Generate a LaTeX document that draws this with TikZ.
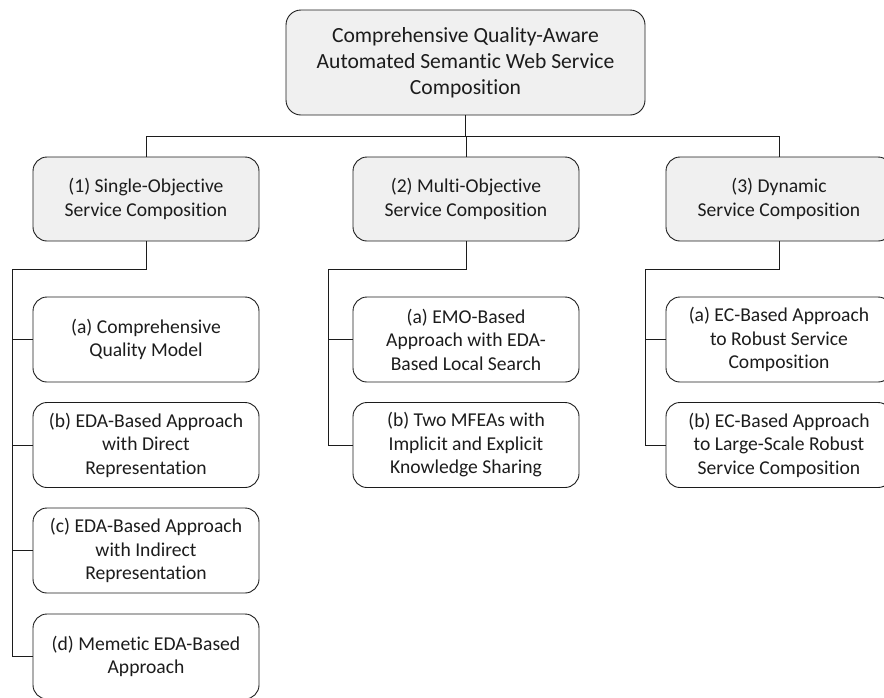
\documentclass[tikz,border=0pt]{standalone}
\usepackage{fontspec}
\setmainfont{Carlito}[RawFeature={-liga;-clig;-calt;-dlig}]
\definecolor{boxfill}{HTML}{F0F0F0}
\definecolor{ink}{HTML}{1C1C1C}
\begin{document}
\begin{tikzpicture}[x=1pt,y=1pt,
  every node/.style={inner sep=0pt, outer sep=0pt, text=ink},
  box/.style={draw=ink, line width=0.9pt, rounded corners=14pt, align=center,
    minimum width=226pt, minimum height=85pt,
    font=\fontsize{19.6}{23.5}\selectfont},
  headbox/.style={box, fill=boxfill, minimum height=84pt},
  rootbox/.style={box, fill=boxfill, minimum width=359pt, minimum height=105pt,
    rounded corners=15pt, font=\fontsize{21.6}{26}\selectfont},
  link/.style={draw=ink, line width=0.9pt}]
\useasboundingbox (0,0) rectangle (884,-697);

% root
\node[rootbox] (root) at (465.5,-62.5)
  {Comprehensive Quality-Aware\\Automated Semantic Web Service\\Composition};

% first level
\node[headbox] (s1) at (146,-199) {(1) Single-Objective\\Service Composition};
\node[headbox] (s2) at (466,-199) {(2) Multi-Objective\\Service Composition};
\node[headbox] (s3) at (779,-199) {(3) Dynamic\\Service Composition};

% single-objective branch
\node[box] (a1) at (146,-339.5) {(a) Comprehensive\\Quality Model};
\node[box] (b1) at (146,-445) {(b) EDA-Based Approach\\with Direct\\Representation};
\node[box] (c1) at (146,-550.5) {(c) EDA-Based Approach\\with Indirect\\Representation};
\node[box] (d1) at (146,-656.5) {(d) Memetic EDA-Based\\Approach};

% multi-objective branch
\node[box] (a2) at (466,-339.5) {(a) EMO-Based\\Approach with EDA-\\Based Local Search};
\node[box] (b2) at (466,-445) {(b) Two MFEAs with\\Implicit and Explicit\\Knowledge Sharing};

% dynamic branch
\node[box] (a3) at (779,-339.5) {(a) EC-Based Approach\\to Robust Service\\Composition};
\node[box] (b3) at (779,-445) {(b) EC-Based Approach\\to Large-Scale Robust\\Service Composition};

% junction points
\coordinate (bus) at (0,-136);
\coordinate (j1) at (12,-269);
\coordinate (j2) at (328,-269);
\coordinate (j3) at (645,-269);

% root to first level
\draw[link] (root.south) -- (root.south |- bus);
\draw[link] (s1.north) -- (s1.north |- bus) -- (s3.north |- bus) -- (s3.north);
\draw[link] (s2.north) -- (s2.north |- bus);

% first level to leaves
\draw[link] (s1.south) |- (j1) -- (j1 |- d1.west) -- (d1.west);
\draw[link] (j1 |- a1.west) -- (a1.west);
\draw[link] (j1 |- b1.west) -- (b1.west);
\draw[link] (j1 |- c1.west) -- (c1.west);

\draw[link] (s2.south) |- (j2) -- (j2 |- b2.west) -- (b2.west);
\draw[link] (j2 |- a2.west) -- (a2.west);

\draw[link] (s3.south) |- (j3) -- (j3 |- b3.west) -- (b3.west);
\draw[link] (j3 |- a3.west) -- (a3.west);
\end{tikzpicture}
\end{document}
